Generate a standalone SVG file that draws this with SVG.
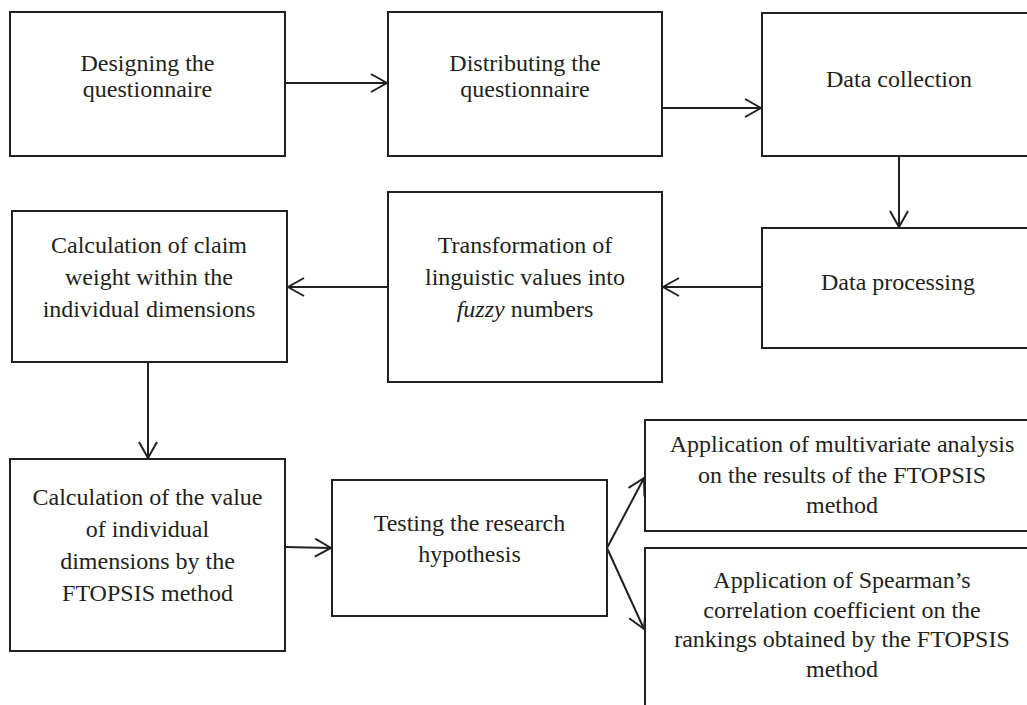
<svg xmlns="http://www.w3.org/2000/svg" width="1027" height="705" viewBox="0 0 1027 705">
<defs>
<style>
.box{fill:#ffffff;stroke:#231f20;stroke-width:2}
.t{font-family:"Liberation Serif","Times New Roman",serif;font-size:24px;fill:#231f20;text-anchor:middle}
.c{fill:none;stroke:#231f20;stroke-width:2}
</style>
<marker id="ah" viewBox="0 0 18 20" refX="17" refY="10" markerWidth="18" markerHeight="20" markerUnits="userSpaceOnUse" orient="auto">
<path d="M1,1 L17,10 L1,19" fill="none" stroke="#231f20" stroke-width="2"/>
</marker>
</defs>
<rect width="1027" height="705" fill="#ffffff"/>
<g id="connectors">
<line class="c" x1="285" y1="83" x2="387" y2="83" marker-end="url(#ah)"/>
<line class="c" x1="662" y1="108" x2="761" y2="108" marker-end="url(#ah)"/>
<line class="c" x1="899" y1="156" x2="899" y2="227" marker-end="url(#ah)"/>
<line class="c" x1="762" y1="287" x2="663" y2="287" marker-end="url(#ah)"/>
<line class="c" x1="388" y1="287" x2="288" y2="287" marker-end="url(#ah)"/>
<line class="c" x1="148" y1="362" x2="148" y2="458" marker-end="url(#ah)"/>
<line class="c" x1="285" y1="547" x2="331" y2="548" marker-end="url(#ah)"/>
<line class="c" x1="607" y1="548" x2="644" y2="478" marker-end="url(#ah)"/>
<line class="c" x1="607" y1="548" x2="644" y2="629" marker-end="url(#ah)"/>
</g>
<g id="n1">
<rect class="box" x="10" y="12" width="275" height="144"/>
<text class="t" x="147.5" y="71">Designing the</text>
<text class="t" x="147.5" y="97">questionnaire</text>
</g>
<g id="n2">
<rect class="box" x="388" y="12" width="274" height="144"/>
<text class="t" x="525" y="71">Distributing the</text>
<text class="t" x="525" y="97">questionnaire</text>
</g>
<g id="n3">
<rect class="box" x="762" y="13" width="274" height="143"/>
<text class="t" x="899" y="87">Data collection</text>
</g>
<g id="n4">
<rect class="box" x="762" y="228" width="274" height="120"/>
<text class="t" x="898" y="290">Data processing</text>
</g>
<g id="n5">
<rect class="box" x="388" y="192" width="274" height="190"/>
<text class="t" x="525" y="253">Transformation of</text>
<text class="t" x="525" y="285">linguistic values into</text>
<text class="t" x="525" y="317"><tspan font-style="italic">fuzzy</tspan> numbers</text>
</g>
<g id="n6">
<rect class="box" x="12" y="211" width="275" height="151"/>
<text class="t" x="149" y="253">Calculation of claim</text>
<text class="t" x="149" y="285">weight within the</text>
<text class="t" x="149" y="317">individual dimensions</text>
</g>
<g id="n7">
<rect class="box" x="10" y="459" width="275" height="192"/>
<text class="t" x="147.5" y="505">Calculation of the value</text>
<text class="t" x="147.5" y="537">of individual</text>
<text class="t" x="147.5" y="569">dimensions by the</text>
<text class="t" x="147.5" y="601">FTOPSIS method</text>
</g>
<g id="n8">
<rect class="box" x="332" y="480" width="275" height="136"/>
<text class="t" x="469.5" y="531">Testing the research</text>
<text class="t" x="469.5" y="562">hypothesis</text>
</g>
<g id="n9">
<rect class="box" x="645" y="420" width="390" height="111"/>
<text class="t" x="842" y="452">Application of multivariate analysis</text>
<text class="t" x="842" y="483">on the results of the FTOPSIS</text>
<text class="t" x="842" y="513">method</text>
</g>
<g id="n10">
<rect class="box" x="645" y="548" width="390" height="170"/>
<text class="t" x="842" y="588">Application of Spearman’s</text>
<text class="t" x="842" y="618">correlation coefficient on the</text>
<text class="t" x="842" y="647">rankings obtained by the FTOPSIS</text>
<text class="t" x="842" y="677">method</text>
</g>
</svg>
